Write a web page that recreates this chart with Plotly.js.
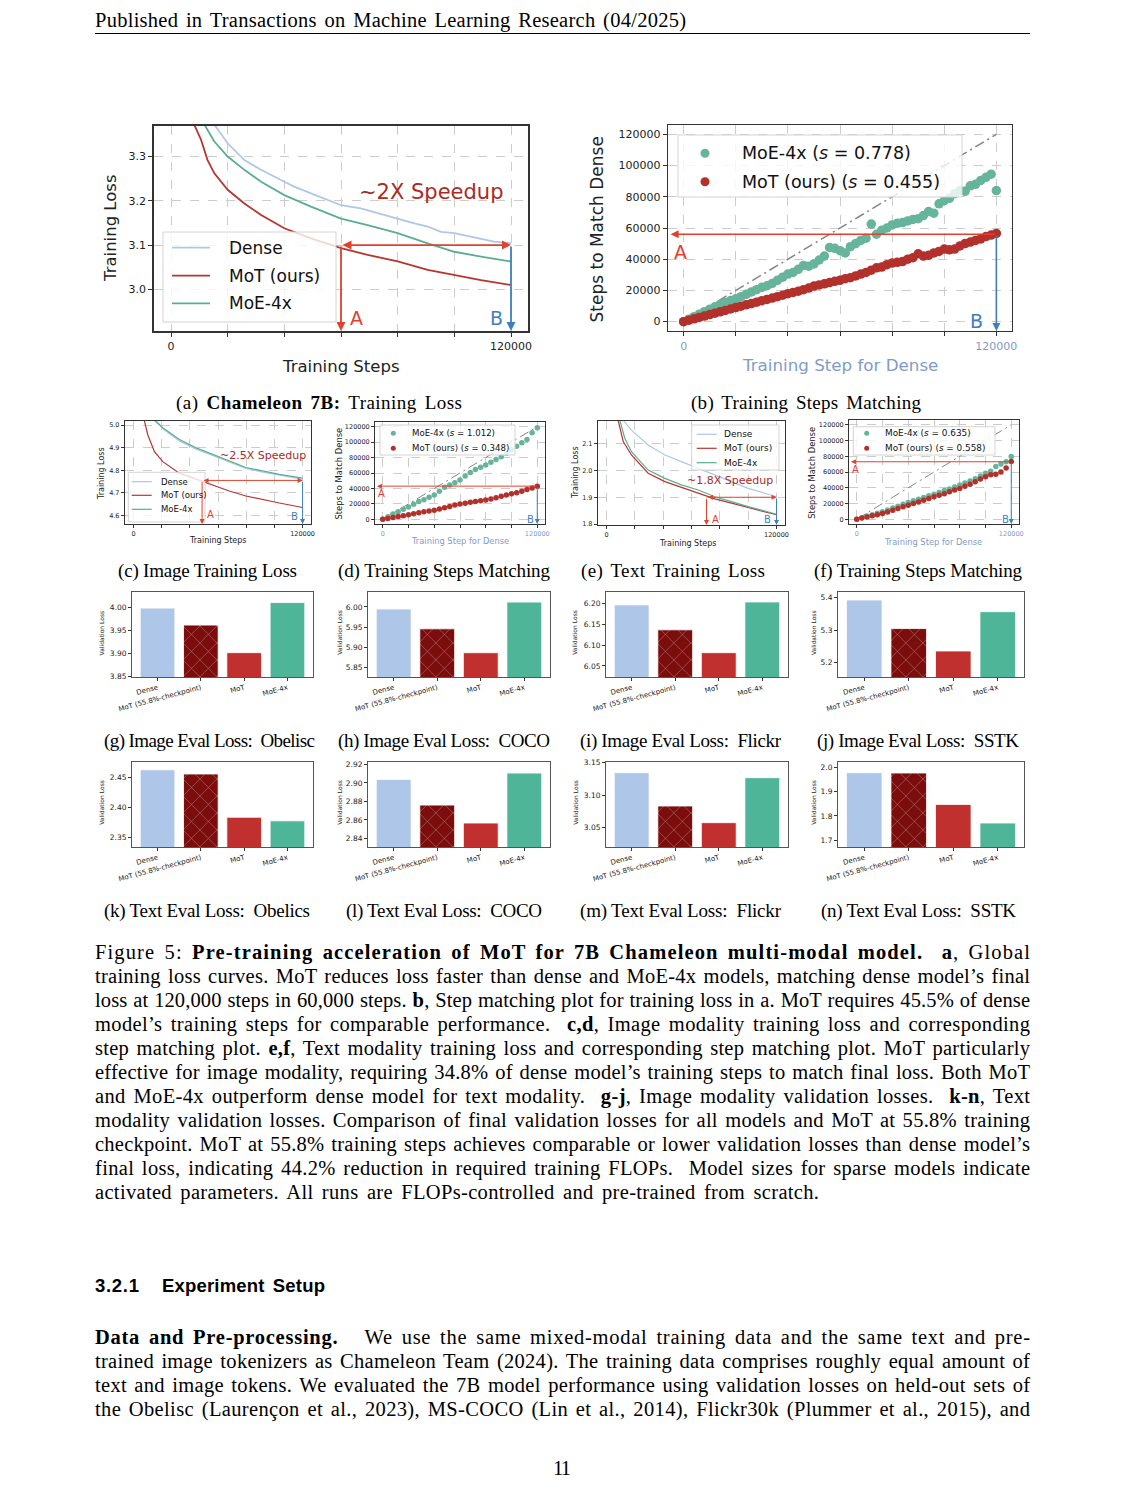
<!DOCTYPE html>
<html><head><meta charset="utf-8">
<script src="https://cdn.plot.ly/plotly-3.0.1.min.js"></script>
<style>
body{margin:0;background:#fff;}
#page{position:relative;width:1124px;height:1494px;overflow:hidden;background:#fff;}
.t{position:absolute;font-family:'Liberation Serif',serif;color:#000;white-space:nowrap;line-height:24px;}
.chart{position:absolute;}
</style></head><body><div id="page"></div>
<script>
// ---------------- DATA ----------------
const stepTicks=[0,20000,40000,60000,80000,100000,120000];
const stepTickText=['0','','','','','','120000'];
const matchTickText=['0','20000','40000','60000','80000','100000','120000'];

// (a) global training loss
const aDenseX=[15300,20000,25900,31800,40000,43500,49400,55300,60000,67000,73000,80000,85900,90600,95300,100000,109400,114000,120000];
const aDenseY=[3.372,3.330,3.292,3.270,3.243,3.232,3.217,3.202,3.190,3.183,3.172,3.160,3.149,3.142,3.130,3.127,3.115,3.108,3.104];
const aMoTX=[8200,10600,12900,15300,20000,25900,31800,40000,49400,60000,69400,80000,90600,100000,109400,120000];
const aMoTY=[3.372,3.338,3.292,3.262,3.225,3.194,3.168,3.138,3.115,3.093,3.078,3.063,3.044,3.032,3.021,3.010];
const aMoEX=[11800,15300,20000,25900,31800,40000,49400,60000,69400,80000,90600,100000,109400,120000];
const aMoEY=[3.372,3.334,3.300,3.270,3.243,3.213,3.187,3.160,3.145,3.127,3.104,3.085,3.074,3.063];

// (b) steps matching
const bX=[0,2000,4000,6000,8000,10000,12000,14000,16000,18000,20000,22000,24000,26000,28000,30000,32000,34000,36000,38000,40000,42000,44000,46000,48000,50000,52000,54000,56000,58000,60000,62000,64000,66000,68000,70000,72000,74000,76000,78000,80000,82000,84000,86000,88000,90000,92000,94000,96000,98000,100000,102000,104000,106000,108000,110000,112000,114000,116000,118000,120000];
const bMoE=[0,1600,3200,4800,6400,8000,9500,11000,12300,13500,14600,16000,17500,19000,20500,22000,23000,24500,26500,28500,30500,31500,33500,36000,35500,37000,39500,42000,47500,47000,45500,44000,48000,50000,52000,53500,62500,56000,58500,60000,62000,63000,63500,64500,65500,66000,68000,70500,69500,75500,77500,79000,82000,84000,83500,87000,88000,90500,92500,94500,84000];
const bMoT=[0,900,1800,2700,3600,4500,5400,6300,7200,8100,9000,9900,10800,11600,12500,13400,14200,15100,16000,16900,17900,18700,19500,20500,21500,22800,23500,24200,25000,25800,26500,27500,28200,29300,30500,31500,33000,34500,35000,36500,37500,38000,38500,40000,41000,43500,42000,42500,44000,45000,46500,46000,46500,48500,50000,51000,52000,53000,54500,55500,56500];

// (c) image training loss
const cDenseX=[15500,20800,32600,44400,56200,68000,79800,91700,103500,120000];
const cDenseY=[5.025,4.985,4.930,4.893,4.865,4.836,4.808,4.792,4.778,4.760];
const cMoTX=[7500,10200,14900,20800,32600,44400,56200,68000,79800,91700,103500,120000];
const cMoTY=[5.025,4.956,4.882,4.838,4.787,4.760,4.733,4.708,4.686,4.669,4.655,4.635];
const cMoEX=[14000,20800,32600,44400,56200,68000,79800,91700,103500,120000];
const cMoEY=[5.025,4.988,4.936,4.899,4.870,4.840,4.812,4.797,4.782,4.765];

// (d),(f) steps matching
const dfX=[0,4000,8000,12000,16000,20000,24000,28000,32000,36000,40000,44000,48000,52000,56000,60000,64000,68000,72000,76000,80000,84000,88000,92000,96000,100000,104000,108000,112000,116000,120000];
const dMoE=[0,3500,7000,10000,13000,16000,19500,23000,25500,28500,31500,36500,41500,44500,47500,51000,56000,60500,64500,67500,70500,74000,77500,81000,85500,90000,94500,99000,103500,112000,118500];
const dMoT=[0,1200,2400,3600,4800,6000,7300,8500,9700,10800,11800,13300,15000,16500,18500,20000,21000,22000,23000,24000,25000,26500,28000,30000,31500,33000,34500,36500,38500,40500,43000];
const fMoE=[0,2000,4000,5800,7600,9400,11800,14200,16600,19000,21300,23400,25500,27500,29800,31900,34000,36500,38500,41000,43400,46000,48500,51500,55000,58300,61000,67000,70000,73000,79600];
const fMoT=[0,1500,3000,4400,5800,7200,9300,11500,13600,15800,17900,20000,22000,24300,26500,28500,30500,32500,35000,37000,39100,42000,44500,47500,51000,54000,56500,57000,60000,65000,73200];

// (e) text training loss
const eDenseX=[11800,17600,29400,41200,52900,64700,76500,88200,100000,111800,120000];
const eDenseY=[2.186,2.149,2.094,2.057,2.032,2.007,1.983,1.958,1.933,1.915,1.902];
const eMoTX=[8200,11800,17600,29400,41200,52900,64700,76500,88200,100000,111800,120000];
const eMoTY=[2.186,2.107,2.057,1.989,1.958,1.936,1.915,1.894,1.878,1.862,1.847,1.835];
const eMoEX=[9400,12900,17600,29400,41200,52900,64700,76500,88200,100000,111800,120000];
const eMoEY=[2.186,2.119,2.069,2.001,1.970,1.946,1.927,1.902,1.884,1.865,1.849,1.837];

// (g)-(n) validation losses
const barCats=['Dense','MoT (55.8%-checkpoint)','MoT','MoE-4x'];
const imgObelisc=[3.998,3.961,3.901,4.010];
const imgCoco=[5.995,5.946,5.887,6.012];
const imgFlickr=[6.197,6.137,6.082,6.204];
const imgSstk=[5.393,5.305,5.236,5.357];
const txtObelics=[2.463,2.456,2.384,2.378];
const txtCoco=[2.9038,2.876,2.8566,2.9106];
const txtFlickr=[3.1346,3.0833,3.0577,3.1269];
const txtSstk=[1.977,1.9755,1.847,1.771];

// ---------------- STYLE ----------------
const FONT='DejaVu Sans, sans-serif';
const C_DENSE='#aec7e8', C_MOT='#b8352e', C_MOE='#5aae90';
const C_SMOE='#66b49b', C_SMOT='#b3302b';
const C_RA='#e2412e', C_BA='#3f7fc0', C_SP='#ad2a1e', C_XB='#7f9cc6';
const BAR_COLORS=['#aec7e8','#7b0d0d','#c0302f','#4fb598'];
const page=document.getElementById('page');

function mk(rect){const d=document.createElement('div');d.className='chart';
  Object.assign(d.style,{left:rect[0]+'px',top:rect[1]+'px',width:rect[2]+'px',height:rect[3]+'px'});page.appendChild(d);return d;}
function marg(rect,box){return {l:box[0]-rect[0],r:rect[0]+rect[2]-box[1],t:box[2]-rect[1],b:rect[1]+rect[3]-box[3],pad:0};}
function P(box,X,Y){return {x:(X-box[0])/(box[1]-box[0]),y:(box[3]-Y)/(box[3]-box[2])};}
function txt(box,X,Y,text,size,color,angle,anchor){const p=P(box,X,Y);
  return {xref:'paper',yref:'paper',x:p.x,y:p.y,xanchor:anchor||'center',yanchor:'middle',text:text,showarrow:false,
    font:{family:FONT,size:size,color:color||'#222'},textangle:angle||0};}
function arrow(x,y,ax,ay,color,both,w){return {xref:'x',yref:'y',axref:'x',ayref:'y',x:x,y:y,ax:ax,ay:ay,text:'',
  showarrow:true,arrowhead:2,arrowsize:1,arrowwidth:w||1.5,arrowcolor:color,arrowside:both?'end+start':'end',standoff:0,startstandoff:0};}

function legendParts(box,L,shapes,anns){
  const a=P(box,L.box[0],L.box[1]), b=P(box,L.box[2],L.box[3]);
  shapes.push({type:'rect',xref:'paper',yref:'paper',x0:a.x,y0:a.y,x1:b.x,y1:b.y,layer:'above',
    fillcolor:'rgba(255,255,255,0.8)',line:{color:'#d4d4d4',width:1}});
  L.items.forEach(it=>{
    if(it.type==='line'){const p=P(box,it.x0,it.y),q=P(box,it.x1,it.y);
      shapes.push({type:'line',xref:'paper',yref:'paper',x0:p.x,y0:p.y,x1:q.x,y1:q.y,layer:'above',line:{color:it.color,width:L.lw}});}
    else{const p=P(box,it.cx,it.y);
      shapes.push({type:'circle',xref:'paper',yref:'paper',xsizemode:'pixel',ysizemode:'pixel',xanchor:p.x,yanchor:p.y,
        x0:-L.r,x1:L.r,y0:-L.r,y1:L.r,layer:'above',fillcolor:it.color,line:{width:0}});}
    anns.push(txt(box,L.tx,it.y,it.text,L.size,'#111',0,'left'));
  });
}

function axisCommon(o){return {showgrid:o.grid!==false,gridcolor:'#cccccc',griddash:'dash',gridwidth:1,zeroline:false,
  showline:true,mirror:true,linecolor:'#333',linewidth:o.lw||1,ticks:'outside',ticklen:o.tl||4,tickwidth:1,tickcolor:'#333'};}

function curvePanel(o){
  const d=mk(o.rect); const traces=[];
  if(o.diag) traces.push({x:[0,120000],y:[0,120000],mode:'lines',line:{color:'#858585',width:o.diagW,dash:'10px,4px,2px,4px'},hoverinfo:'skip',showlegend:false});
  o.series.forEach(s=>{
    if(o.scatter) traces.push({x:s.x,y:s.y,mode:'markers',marker:{color:s.color,size:o.ms,line:{width:0}},showlegend:false});
    else traces.push({x:s.x,y:s.y,mode:'lines',line:{color:s.color,width:o.lw},showlegend:false});
  });
  const shapes=[], anns=[];
  anns.push(...o.arrows);
  legendParts(o.box,o.legend,shapes,anns);
  o.labels.forEach(l=>anns.push(txt(o.box,l[0],l[1],l[2],l[3],l[4],l[5]||0)));
  const xa=Object.assign(axisCommon(o),{range:o.xr,tickvals:stepTicks,ticktext:stepTickText,tickfont:{family:FONT,size:o.tf,color:o.xtc||'#222'}});
  const ya=Object.assign(axisCommon(o),{range:o.yr,tickvals:o.yt,ticktext:o.ytt,tickfont:{family:FONT,size:o.tf,color:'#222'}});
  Plotly.newPlot(d,traces,{width:o.rect[2],height:o.rect[3],margin:marg(o.rect,o.box),paper_bgcolor:'#fff',plot_bgcolor:'#fff',
    showlegend:false,font:{family:FONT},xaxis:xa,yaxis:ya,shapes:shapes,annotations:anns},{staticPlot:true,displayModeBar:false});
}

function barPanel(o){
  const d=mk(o.rect);
  const tr={type:'bar',x:[0,1,2,3],y:o.vals,width:0.8,
    marker:{color:BAR_COLORS,line:{color:'rgba(255,255,255,0.8)',width:1},
      pattern:{shape:['','x','',''],fgcolor:'#000',size:12,solidity:0.08,fillmode:'overlay'}},showlegend:false};
  const xa=Object.assign(axisCommon({grid:false,tl:3}),{range:[-0.59,3.59],tickvals:[0,1,2,3],ticktext:barCats,tickangle:-15,
    tickfont:{family:FONT,size:7,color:'#222'},linecolor:'#555'});
  const ya=Object.assign(axisCommon({grid:false,tl:3}),{range:o.yr,tickvals:o.yt,tickformat:o.fmt,
    tickfont:{family:FONT,size:7.5,color:'#222'},linecolor:'#555'});
  const anns=[txt(o.box,o.titleX,(o.box[2]+o.box[3])/2-(o.box[3]-o.box[2])*0.02,'Validation Loss',6,'#222',-90)];
  Plotly.newPlot(d,[tr],{width:o.rect[2],height:o.rect[3],margin:marg(o.rect,o.box),paper_bgcolor:'#fff',plot_bgcolor:'#fff',
    font:{family:FONT},xaxis:xa,yaxis:ya,annotations:anns,bargap:0.2},{staticPlot:true,displayModeBar:false});
}

// ---------------- PANELS ----------------
// (a)
(function(){const box=[154,528,126,331];
curvePanel({rect:[60,100,490,300],box:box,xr:[-6000,126000],yr:[2.906,3.369],yt:[3.0,3.1,3.2,3.3],ytt:['3.0','3.1','3.2','3.3'],
  tf:11,lw:1.8,series:[{x:aDenseX,y:aDenseY,color:C_DENSE},{x:aMoTX,y:aMoTY,color:C_MOT},{x:aMoEX,y:aMoEY,color:C_MOE}],
  arrows:[arrow(120000,3.1,60000,3.1,C_RA,true,1.8),arrow(60000,2.906,60000,3.1,C_RA,false,1.8),arrow(120000,2.906,120000,3.1,C_BA,false,1.8)],
  legend:{box:[163,232,336,322],lw:1.8,size:17,tx:226.7,items:[
    {type:'line',x0:172,x1:210,y:247.7,color:C_DENSE,text:'Dense'},
    {type:'line',x0:172,x1:210,y:275.7,color:C_MOT,text:'MoT (ours)'},
    {type:'line',x0:172,x1:210,y:303.3,color:C_MOE,text:'MoE-4x'}]},
  labels:[[431.7,191.7,'~2X Speedup',21,C_SP],[356.7,318,'A',19,C_RA],[496.7,318,'B',19,C_BA],
    [110,228,'Training Loss',16.5,'#222',-90],[341,366,'Training Steps',16.5,'#222']]});})();

// (b)
(function(){const box=[668,1012,125,331];
curvePanel({rect:[570,100,460,300],box:box,xr:[-6000,126000],yr:[-6000,126000],yt:stepTicks,ytt:matchTickText,
  tf:11,lw:1.3,scatter:true,ms:9.5,diag:true,diagW:1.5,xtc:C_XB,
  series:[{x:bX,y:bMoE,color:C_SMOE},{x:bX,y:bMoT,color:C_SMOT}],
  arrows:[arrow(-5000,56000,120000,56000,C_RA,false,1.6),arrow(120000,-6000,120000,56000,C_BA,false,1.6)],
  legend:{box:[678,135,962,197],r:4.5,size:17.5,tx:740,items:[
    {type:'marker',cx:705,y:153.3,color:C_SMOE,text:'MoE-4x (<i>s</i> = 0.778)'},
    {type:'marker',cx:705,y:181.7,color:C_SMOT,text:'MoT (ours) (<i>s</i> = 0.455)'}]},
  labels:[[680,251.7,'A',19,C_RA],[976.7,321,'B',19,C_BA],
    [596.5,230,'Steps to Match Dense',17,'#222',-90],[840,365,'Training Step for Dense',16.7,C_XB]]});})();

// (c)
(function(){const box=[125,311,421,524];
curvePanel({rect:[92,414,228,140],box:box,xr:[-6000,126000],yr:[4.562,5.018],yt:[4.6,4.7,4.8,4.9,5.0],ytt:['4.6','4.7','4.8','4.9','5.0'],
  tf:6.5,lw:1.2,tl:3,series:[{x:cDenseX,y:cDenseY,color:C_DENSE},{x:cMoTX,y:cMoTY,color:C_MOT},{x:cMoEX,y:cMoEY,color:C_MOE}],
  arrows:[arrow(120000,4.755,48700,4.755,C_RA,true,1),arrow(48700,4.562,48700,4.755,C_RA,false,1),arrow(120000,4.562,120000,4.755,C_BA,false,1)],
  legend:{box:[128.3,472.3,205,522],lw:1.2,size:8.5,tx:159.3,items:[
    {type:'line',x0:131.7,x1:151.7,y:481.7,color:C_DENSE,text:'Dense'},
    {type:'line',x0:131.7,x1:151.7,y:495.3,color:C_MOT,text:'MoT (ours)'},
    {type:'line',x0:131.7,x1:151.7,y:509.3,color:C_MOE,text:'MoE-4x'}]},
  labels:[[263.3,455.7,'~2.5X Speedup',11,C_SP],[210,514.5,'A',10,C_RA],[294.3,516,'B',10,C_BA],
    [101.7,473.3,'Training Loss',8,'#222',-90],[217.7,541,'Training Steps',8,'#222']]});})();

// (d)
(function(){const box=[375,545,422,524];
curvePanel({rect:[328,414,226,140],box:box,xr:[-6000,126000],yr:[-6000,126000],yt:stepTicks,ytt:matchTickText,
  tf:6.5,lw:1,tl:3,scatter:true,ms:5.5,diag:true,diagW:1,xtc:C_XB,
  series:[{x:dfX,y:dMoE,color:C_SMOE},{x:dfX,y:dMoT,color:C_SMOT}],
  arrows:[arrow(-4500,43000,120000,43000,C_RA,false,1),arrow(120000,-6000,120000,43000,C_BA,false,1)],
  legend:{box:[380,425,515,455],r:2.5,size:8.6,tx:410,items:[
    {type:'marker',cx:393.3,y:433.3,color:C_SMOE,text:'MoE-4x (<i>s</i> = 1.012)'},
    {type:'marker',cx:393.3,y:448.3,color:C_SMOT,text:'MoT (ours) (<i>s</i> = 0.348)'}]},
  labels:[[381.7,493.3,'A',10,C_RA],[530,519,'B',10,C_BA],
    [339.3,473.3,'Steps to Match Dense',8.4,'#222',-90],[460,541,'Training Step for Dense',8.3,C_XB]]});})();

// (e)
(function(){const box=[598,785,421,525];
curvePanel({rect:[563,414,230,140],box:box,xr:[-6000,126000],yr:[1.797,2.183],yt:[1.8,1.9,2.0,2.1],ytt:['1.8','1.9','2.0','2.1'],
  tf:6.5,lw:1.2,tl:3,series:[{x:eDenseX,y:eDenseY,color:C_DENSE},{x:eMoTX,y:eMoTY,color:C_MOT},{x:eMoEX,y:eMoEY,color:C_MOE}],
  arrows:[arrow(120000,1.9,70600,1.9,C_RA,true,1),arrow(70600,1.797,70600,1.9,C_RA,false,1),arrow(120000,1.797,120000,1.9,C_BA,false,1)],
  legend:{box:[691.7,425,779,470],lw:1.2,size:9,tx:721.7,items:[
    {type:'line',x0:696.7,x1:716.7,y:434.3,color:C_DENSE,text:'Dense'},
    {type:'line',x0:696.7,x1:716.7,y:448.3,color:C_MOT,text:'MoT (ours)'},
    {type:'line',x0:696.7,x1:716.7,y:462.7,color:C_MOE,text:'MoE-4x'}]},
  labels:[[730,480,'~1.8X Speedup',11,C_SP],[715,519.5,'A',10,C_RA],[767.7,519.5,'B',10,C_BA],
    [575,473,'Training Loss',8,'#222',-90],[687.7,543.3,'Training Steps',8,'#222']]});})();

// (f)
(function(){const box=[849,1019,420,524];
curvePanel({rect:[800,414,228,140],box:box,xr:[-6000,126000],yr:[-6000,126000],yt:stepTicks,ytt:matchTickText,
  tf:6.5,lw:1,tl:3,scatter:true,ms:5.5,diag:true,diagW:1,xtc:C_XB,
  series:[{x:dfX,y:fMoE,color:C_SMOE},{x:dfX,y:fMoT,color:C_SMOT}],
  arrows:[arrow(-4500,73000,120000,73000,C_RA,false,1),arrow(120000,-6000,120000,73000,C_BA,false,1)],
  legend:{box:[853.3,426.7,995,455],r:2.5,size:8.9,tx:883.3,items:[
    {type:'marker',cx:866.7,y:433.3,color:C_SMOE,text:'MoE-4x (<i>s</i> = 0.635)'},
    {type:'marker',cx:866.7,y:448.3,color:C_SMOT,text:'MoT (ours) (<i>s</i> = 0.558)'}]},
  labels:[[855,470,'A',10,C_RA],[1005,519,'B',10,C_BA],
    [811.7,473,'Steps to Match Dense',8.4,'#222',-90],[933.3,541.7,'Training Step for Dense',8.3,C_XB]]});})();

// bars
const barDefs=[
 {vals:imgObelisc,box:[132,313,592,677],yr:[3.848,4.033],yt:[3.85,3.90,3.95,4.00],fmt:'.2f',titleX:101.7},
 {vals:imgCoco,box:[368,550,592,677],yr:[5.827,6.037],yt:[5.85,5.90,5.95,6.00],fmt:'.2f',titleX:340},
 {vals:imgFlickr,box:[606,788,592,677],yr:[6.0235,6.228],yt:[6.05,6.10,6.15,6.20],fmt:'.2f',titleX:575},
 {vals:imgSstk,box:[838,1024,592,677],yr:[5.156,5.4175],yt:[5.2,5.3,5.4],fmt:'.1f',titleX:813.3},
 {vals:txtObelics,box:[132,313,762,847],yr:[2.3345,2.476],yt:[2.35,2.40,2.45],fmt:'.2f',titleX:102},
 {vals:txtCoco,box:[368,550,762,847],yr:[2.8307,2.9226],yt:[2.84,2.86,2.88,2.90,2.92],fmt:'.2f',titleX:340},
 {vals:txtFlickr,box:[606,788,762,847],yr:[3.0203,3.151],yt:[3.05,3.10,3.15],fmt:'.2f',titleX:576},
 {vals:txtSstk,box:[838,1024,762,847],yr:[1.673,2.0205],yt:[1.7,1.8,1.9,2.0],fmt:'.1f',titleX:814}];
barDefs.forEach(b=>{b.rect=[b.box[0]-40,b.box[2]-8,b.box[1]-b.box[0]+48,b.box[3]-b.box[2]+65];barPanel(b);});

// ---------------- TEXT ----------------
const rule=document.createElement('div');
Object.assign(rule.style,{position:'absolute',left:'95px',top:'33px',width:'935px',height:'0',borderTop:'1px solid #000'});
page.appendChild(rule);
const SANS="'Liberation Sans',sans-serif";
const SUB=19;
const texts=[
 {h:'Published in Transactions on Machine Learning Research (04/2025)',x:95,y:20,w:591},
 {h:'(a) <b>Chameleon 7B:</b> Training Loss',x:176,y:403,w:286,size:SUB},
 {h:'(b) Training Steps Matching',x:691,y:403,w:230,size:SUB},
 {h:'(c) Image Training Loss',x:118,y:571,w:179,size:SUB},
 {h:'(d) Training Steps Matching',x:338,y:571,w:212,size:SUB},
 {h:'(e) Text Training Loss',x:581,y:571,w:184,size:SUB},
 {h:'(f) Training Steps Matching',x:814,y:571,w:208,size:SUB},
 {h:'(g) Image Eval Loss:&nbsp; Obelisc',x:104,y:741,w:211,size:SUB},
 {h:'(h) Image Eval Loss:&nbsp; COCO',x:338,y:741,w:212,size:SUB},
 {h:'(i) Image Eval Loss:&nbsp; Flickr',x:580,y:741,w:201,size:SUB},
 {h:'(j) Image Eval Loss:&nbsp; SSTK',x:817,y:741,w:202,size:SUB},
 {h:'(k) Text Eval Loss:&nbsp; Obelics',x:104,y:911,w:206,size:SUB},
 {h:'(l) Text Eval Loss:&nbsp; COCO',x:346,y:911,w:196,size:SUB},
 {h:'(m) Text Eval Loss:&nbsp; Flickr',x:580,y:911,w:201,size:SUB},
 {h:'(n) Text Eval Loss:&nbsp; SSTK',x:821,y:911,w:195,size:SUB},
 {h:'Figure 5: <b>Pre-training acceleration of MoT for 7B Chameleon multi-modal model.</b>&nbsp; <b>a</b>, Global',x:95,y:952,w:935},
 {h:'training loss curves. MoT reduces loss faster than dense and MoE-4x models, matching dense model’s final',x:95,y:976,w:935},
 {h:'loss at 120,000 steps in 60,000 steps. <b>b</b>, Step matching plot for training loss in a. MoT requires 45.5% of dense',x:95,y:1000,w:935},
 {h:'model’s training steps for comparable performance.&nbsp; <b>c,d</b>, Image modality training loss and corresponding',x:95,y:1024,w:935},
 {h:'step matching plot. <b>e,f</b>, Text modality training loss and corresponding step matching plot. MoT particularly',x:95,y:1048,w:935},
 {h:'effective for image modality, requiring 34.8% of dense model’s training steps to match final loss. Both MoT',x:95,y:1072,w:935},
 {h:'and MoE-4x outperform dense model for text modality.&nbsp; <b>g-j</b>, Image modality validation losses.&nbsp; <b>k-n</b>, Text',x:95,y:1096,w:935},
 {h:'modality validation losses. Comparison of final validation losses for all models and MoT at 55.8% training',x:95,y:1120,w:935},
 {h:'checkpoint. MoT at 55.8% training steps achieves comparable or lower validation losses than dense model’s',x:95,y:1144,w:935},
 {h:'final loss, indicating 44.2% reduction in required training FLOPs.&nbsp; Model sizes for sparse models indicate',x:95,y:1168,w:935},
 {h:'activated parameters. All runs are FLOPs-controlled and pre-trained from scratch.',x:95,y:1192,w:724},
 {h:'<b>3.2.1</b>',x:95,y:1286,w:44,font:SANS,size:18.5},
 {h:'<b>Experiment Setup</b>',x:162,y:1286,w:163,font:SANS,size:18.5},
 {h:'<b>Data and Pre-processing.</b>&nbsp;&nbsp; We use the same mixed-modal training data and the same text and pre-',x:95,y:1337,w:935},
 {h:'trained image tokenizers as Chameleon Team (2024). The training data comprises roughly equal amount of',x:95,y:1361,w:935},
 {h:'text and image tokens. We evaluated the 7B model performance using validation losses on held-out sets of',x:95,y:1385,w:935},
 {h:'the Obelisc (Laurençon et al., 2023), MS-COCO (Lin et al., 2014), Flickr30k (Plummer et al., 2015), and',x:95,y:1409,w:935},
 {h:'11',x:553,y:1468,w:18}
];
texts.forEach(t=>{
  const el=document.createElement('div');el.className='t';el.innerHTML=t.h;
  el.style.left=t.x+'px';el.style.top=(t.y-12)+'px';el.style.fontSize=(t.size||20.5)+'px';
  if(t.font) el.style.fontFamily=t.font;
  page.appendChild(el);
  if(t.w){const nat=el.getBoundingClientRect().width;const s=el.textContent;const n=s.length;
    const sp=(s.match(/[ \u00a0]/g)||[]).length;
    let extra=t.w-nat;
    let ws=0;
    if(sp>0 && extra>0){ws=Math.min(extra*0.5/sp,3);}
    const ls=n>1?(extra-ws*sp)/(n-1):0;
    el.style.wordSpacing=ws.toFixed(3)+'px';
    el.style.letterSpacing=ls.toFixed(3)+'px';}
});
</script></body></html>
